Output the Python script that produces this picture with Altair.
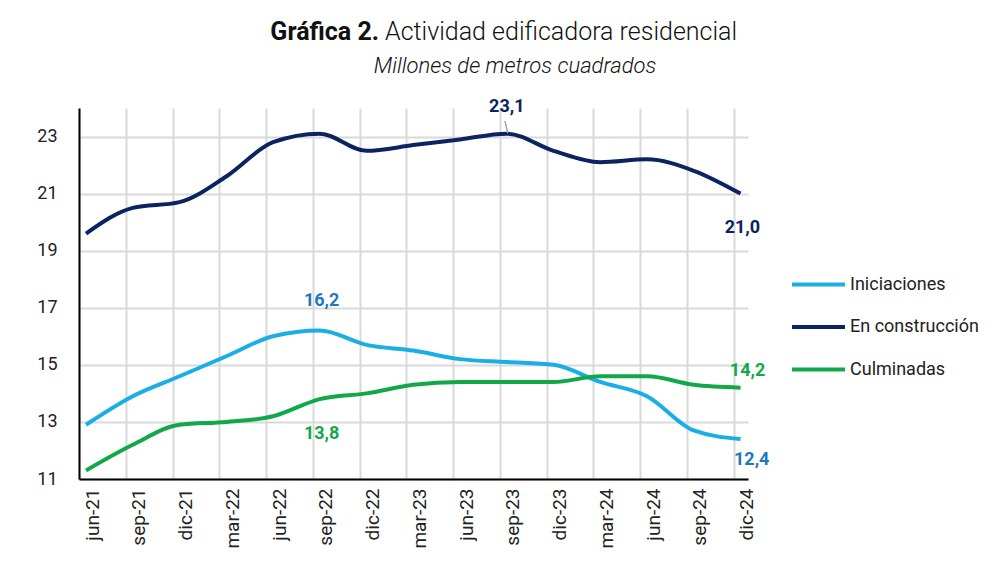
import altair as alt
import pandas as pd

# ---- data ----
periods = ["jun-21", "sep-21", "dic-21", "mar-22", "jun-22", "sep-22", "dic-22",
           "mar-23", "jun-23", "sep-23", "dic-23", "mar-24", "jun-24", "sep-24", "dic-24"]
iniciaciones = [12.9, 13.9, 14.6, 15.3, 16.0, 16.2, 15.7, 15.5, 15.2, 15.1, 15.0, 14.4, 13.9, 12.7, 12.4]
en_construccion = [19.6, 20.5, 20.7, 21.6, 22.8, 23.1, 22.5, 22.7, 22.9, 23.1, 22.5, 22.1, 22.2, 21.8, 21.0]
culminadas = [11.3, 12.2, 12.9, 13.0, 13.2, 13.8, 14.0, 14.3, 14.4, 14.4, 14.4, 14.6, 14.6, 14.3, 14.2]
series_names = ["Iniciaciones", "En construcción", "Culminadas"]
series_colors = ["#19AEE6", "#0B2461", "#12A84A"]
y_ticks = [11, 13, 15, 17, 19, 21, 23]

# annotated values (series, period index)
ann_series = ["En construcción", "En construcción", "Iniciaciones", "Culminadas", "Culminadas", "Iniciaciones"]
ann_index = [9, 14, 5, 5, 14, 14]
ann_colors = ["#0B2461", "#0B2461", "#1F77C0", "#12A84A", "#12A84A", "#1F77C0"]
# label placement offsets (x in period units, y in value units)
ann_dx = [0.0, 0.04, 0.04, 0.04, 0.15, 0.24]
ann_dy = [0.95, -1.2, 1.05, -1.23, 0.6, -0.72]

values = {"Iniciaciones": iniciaciones, "En construcción": en_construccion, "Culminadas": culminadas}

rows = []
for s in series_names:
    for i, p in enumerate(periods):
        rows.append({"idx": i, "periodo": p, "serie": s, "valor": values[s][i]})
df = pd.DataFrame(rows)

ann_rows = []
for s, i, c, dx, dy in zip(ann_series, ann_index, ann_colors, ann_dx, ann_dy):
    v = values[s][i]
    ann_rows.append({"x": i + dx, "y": v + dy, "txt": f"{v:.1f}".replace(".", ","), "col": c})
ann_df = pd.DataFrame(ann_rows)

# leader line for the 23,1 label
lead_df = pd.DataFrame([{"x": 8.96, "x2": 9.02, "y": 23.55, "y2": en_construccion[9] + 0.02}])

FONT = "Roboto"
x_scale = alt.Scale(domain=[-0.15, 14.16], nice=False, zero=False)
y_scale = alt.Scale(domain=[11, 24], nice=False, zero=False)
grid_vals = [i - 0.15 for i in range(len(periods))]
label_expr = "[" + ",".join(f"'{p}'" for p in periods) + "][round(datum.value + 0.15)]"

x_axis = alt.Axis(values=grid_vals, grid=True, gridColor="#D9D9D9", gridWidth=2,
                  domainColor="#000000", domainWidth=2, ticks=False, tickSize=0,
                  labelAngle=270, labelExpr=label_expr, labelOffset=13, labelPadding=9,
                  labelFont=FONT, labelFontSize=19, labelColor="#222222", title=None,
                  labelOverlap=False)
y_axis = alt.Axis(values=y_ticks, grid=True, gridColor="#D9D9D9", gridWidth=2,
                  domainColor="#000000", domainWidth=2, ticks=False, tickSize=0,
                  labelPadding=22, labelFont=FONT, labelFontSize=18, labelColor="#222222",
                  title=None)

lines = alt.Chart(df).mark_line(interpolate="monotone", strokeWidth=4).encode(
    x=alt.X("idx:Q", scale=x_scale, axis=x_axis),
    y=alt.Y("valor:Q", scale=y_scale, axis=y_axis),
    color=alt.Color("serie:N", scale=alt.Scale(domain=series_names, range=series_colors),
                    sort=series_names,
                    legend=alt.Legend(orient="none", legendX=711, legendY=148, title=None,
                                      symbolType="stroke", symbolSize=2809, symbolStrokeWidth=4,
                                      labelFont=FONT, labelFontSize=18, labelColor="#222222",
                                      labelOffset=3, rowPadding=4.5)),
    detail="serie:N",
)

lead = alt.Chart(lead_df).mark_rule(color="#A6A6A6", strokeWidth=1.5).encode(
    x="x:Q", x2="x2:Q", y="y:Q", y2="y2:Q")

ann = alt.Chart(ann_df).mark_text(font=FONT, fontSize=18, fontWeight="bold",
                                  align="center", baseline="middle").encode(
    x="x:Q", y="y:Q", text="txt:N", color=alt.Color("col:N", scale=None))

one = pd.DataFrame({"a": [0]})
t_bold = alt.Chart(one).mark_text(text="Gráfica 2.", font=FONT, fontSize=25, fontWeight="bold",
                                  align="right", baseline="alphabetic", color="#111111").encode(
    x=alt.value(300), y=alt.value(-68))
t_rest = alt.Chart(one).mark_text(text="Actividad edificadora residencial", font=FONT, fontSize=25,
                                  fontWeight=300, align="left", baseline="alphabetic",
                                  color="#111111").encode(
    x=alt.value(306), y=alt.value(-68))
t_sub = alt.Chart(one).mark_text(text="Millones de metros cuadrados", font=FONT, fontSize=22,
                                 fontStyle="italic", fontWeight=300, align="center",
                                 baseline="alphabetic", color="#111111").encode(
    x=alt.value(436), y=alt.value(-35))

chart = alt.layer(lines, lead, ann, t_bold, t_rest, t_sub).properties(
    width=669, height=371,
    autosize=alt.AutoSizeParams(type="none"),
    padding={"left": 71, "top": 100, "right": 230, "bottom": 92},
    background="white",
).configure_view(stroke=None)

chart.save("out.html", embed_options={"renderer": "svg", "actions": False})
